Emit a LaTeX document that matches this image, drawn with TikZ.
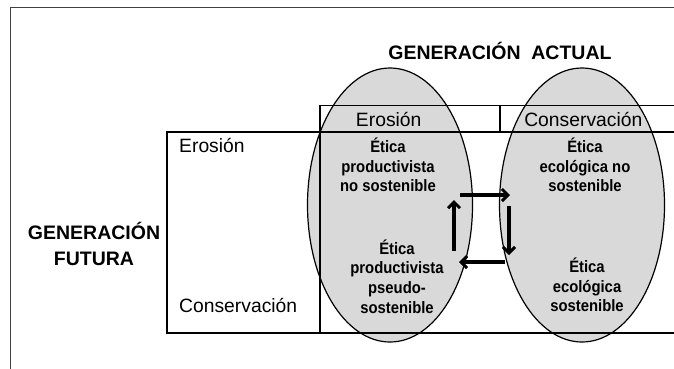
\documentclass[tikz,border=0pt]{standalone}
\usepackage{fontspec}
\setmainfont{Liberation Sans}
\newfontfamily\schmal[FakeStretch=0.9]{Liberation Sans}
\usetikzlibrary{positioning,%
  shapes.geometric,%
  arrows.meta
}
\begin{document}
\begin{tikzpicture}
  [
    x=1pt, y=-1pt,
    oval/.style={draw, ellipse, line width=1.2pt, fill=black!15, minimum width=165pt, minimum height=274pt, inner sep=0pt},
    tabline/.style={line width=1.6pt},
    kopf/.style={font=\fontsize{19.3}{22}\selectfont, inner sep=0pt},
    etica/.style={align=center, font=\schmal\bfseries\fontsize{16.5}{19.7}\selectfont, inner sep=0pt},
    titel/.style={align=center, font=\bfseries\fontsize{19.5}{26}\selectfont, inner sep=0pt},
    pfeil/.style={line width=3.5pt, -{Straight Barb[length=6pt,width=12pt,line width=3pt]}}
  ]

  % Rahmen
  \useasboundingbox (0,0) rectangle (674,368);
  \clip (0,0) rectangle (674,368);
  \draw[black!75, line width=1pt] (10.5,7) rectangle (690,380);

  % Ellipsen
  \node[oval] (erosion) at (390,205) {};
  \node[oval] (conserv) at (582,205) {};

  % Tabelle
  \draw[tabline] (320,105.5) rectangle (690,132);
  \draw[tabline] (500,105.5) -- (500,132);
  \draw[tabline] (166.7,132) rectangle (690,332.7);
  \draw[tabline] (320,132) -- (320,332.7);

  % Titel
  \node[titel] (actual) at (500,51) {GENERACIÓN\ \ ACTUAL};
  \node[titel] (futura) at (94,244) {GENERACIÓN\\FUTURA};

  % Kopfzeilen
  \node[kopf] (colero) at (388.7,119) {Erosión};
  \node[kopf] (colcon) at (583.3,119) {Conservación};
  \node[kopf, anchor=west] (rowero) at (179,145) {Erosión};
  \node[kopf, anchor=west] (rowcon) at (179,305) {Conservación};

  % Felder
  \node[etica] (prodno) at (388,165) {Ética\\productivista\\no sostenible};
  \node[etica] (prodps) at (397,276.5) {Ética\\productivista\\pseudo-\\sostenible};
  \node[etica] (ecolno) at (585,165) {Ética\\ecológica no\\sostenible};
  \node[etica] (ecolso) at (587,285) {Ética\\ecológica\\sostenible};

  % Pfeile
  \coordinate (p1) at (460,195);
  \coordinate (p2) at (510,195);
  \coordinate (p3) at (509,206);
  \coordinate (p4) at (509,255);
  \coordinate (p5) at (505,262);
  \coordinate (p6) at (459,262);
  \coordinate (p7) at (454,251);
  \coordinate (p8) at (454,200);
  \draw[pfeil] (p1) -- (p2);
  \draw[pfeil] (p3) -- (p4);
  \draw[pfeil] (p5) -- (p6);
  \draw[pfeil] (p7) -- (p8);
\end{tikzpicture}
\end{document}
